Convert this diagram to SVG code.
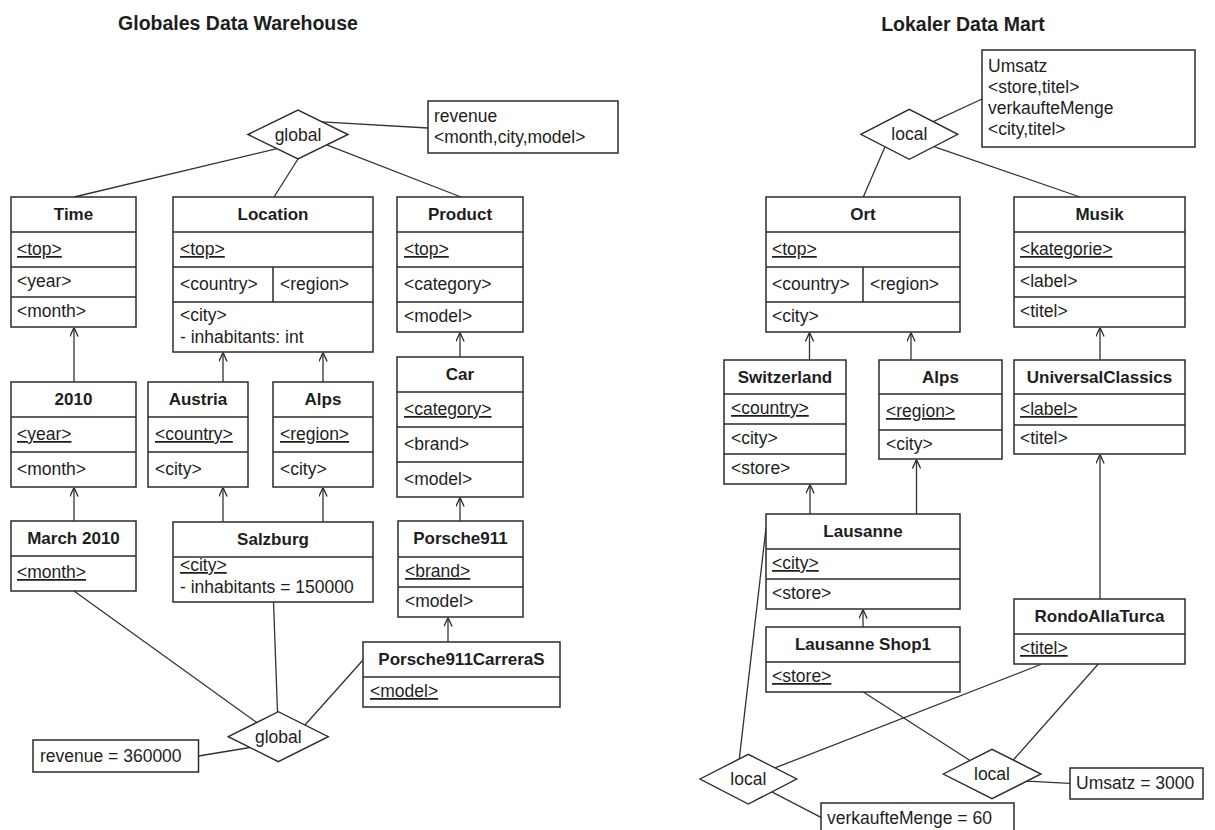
<svg xmlns="http://www.w3.org/2000/svg" width="1215" height="830" viewBox="0 0 1215 830">
  <defs>
    <style>
      .box { fill: #fff; stroke: #2b2b2b; stroke-width: 1.5; }
      .sep { stroke: #2b2b2b; stroke-width: 1.5; fill: none; }
      .edge { stroke: #333; stroke-width: 1.3; fill: none; }
      .dia { fill: #fff; stroke: #2b2b2b; stroke-width: 1.4; }
      text { font-family: "Liberation Sans", Arial, sans-serif; fill: #1e1e1e; }
      .t { font-size: 17.5px; }
      .h { font-size: 17px; font-weight: bold; text-anchor: middle; }
      .k { font-size: 17.5px; text-decoration: underline; }
      .c { font-size: 17.5px; text-anchor: middle; }
      .title { font-size: 19.5px; font-weight: bold; text-anchor: middle; }
    </style>
    <marker id="open" viewBox="0 0 9 9" refX="9" refY="4.5" markerWidth="9" markerHeight="9" markerUnits="userSpaceOnUse" orient="auto">
      <path d="M0,0.4 L9,4.5 L0,8.6" fill="none" stroke="#2b2b2b" stroke-width="1.3"/>
    </marker>
  </defs>
  <rect width="1215" height="830" fill="#fff"/>

  <text class="title" x="238" y="30">Globales Data Warehouse</text>
  <text class="title" x="963" y="31">Lokaler Data Mart</text>

  <!-- connectors -->
  <g id="connectors">
    <!-- global schema -->
    <line class="edge" x1="277" y1="148.6" x2="74" y2="197"/>
    <line class="edge" x1="298" y1="159" x2="274" y2="197"/>
    <line class="edge" x1="326.7" y1="144.9" x2="461" y2="197"/>
    <line class="edge" x1="322" y1="121.8" x2="428" y2="128"/>
    <!-- global hierarchy arrows -->
    <line class="edge" x1="74" y1="382" x2="74" y2="327.5" marker-end="url(#open)"/>
    <line class="edge" x1="223" y1="382" x2="223" y2="352.5" marker-end="url(#open)"/>
    <line class="edge" x1="323" y1="382" x2="323" y2="352.5" marker-end="url(#open)"/>
    <line class="edge" x1="460" y1="357" x2="460" y2="332.5" marker-end="url(#open)"/>
    <line class="edge" x1="74" y1="521" x2="74" y2="487.5" marker-end="url(#open)"/>
    <line class="edge" x1="223" y1="522" x2="223" y2="487.5" marker-end="url(#open)"/>
    <line class="edge" x1="323" y1="522" x2="323" y2="487.5" marker-end="url(#open)"/>
    <line class="edge" x1="460" y1="521" x2="460" y2="497.5" marker-end="url(#open)"/>
    <line class="edge" x1="448" y1="642" x2="448" y2="617.5" marker-end="url(#open)"/>
    <!-- global instance -->
    <line class="edge" x1="74" y1="591" x2="256.7" y2="722.5"/>
    <line class="edge" x1="273.5" y1="602" x2="277.5" y2="712"/>
    <line class="edge" x1="363" y1="660" x2="305" y2="725"/>
    <line class="edge" x1="198.5" y1="756" x2="250" y2="747.5"/>

    <!-- local schema -->
    <line class="edge" x1="933.3" y1="121.7" x2="982" y2="99"/>
    <line class="edge" x1="885" y1="146.8" x2="863.3" y2="197"/>
    <line class="edge" x1="934" y1="146.6" x2="1080" y2="197"/>
    <!-- local hierarchy arrows -->
    <line class="edge" x1="809.5" y1="360" x2="809.5" y2="332.5" marker-end="url(#open)"/>
    <line class="edge" x1="911" y1="360" x2="911" y2="332.5" marker-end="url(#open)"/>
    <line class="edge" x1="1100" y1="360" x2="1100" y2="327.5" marker-end="url(#open)"/>
    <line class="edge" x1="810" y1="514" x2="810" y2="484.5" marker-end="url(#open)"/>
    <line class="edge" x1="916.5" y1="514" x2="916.5" y2="459.5" marker-end="url(#open)"/>
    <line class="edge" x1="863" y1="627" x2="863" y2="609.5" marker-end="url(#open)"/>
    <line class="edge" x1="1100" y1="599" x2="1100" y2="454.5" marker-end="url(#open)"/>
    <!-- local instances -->
    <line class="edge" x1="739.3" y1="758.9" x2="766" y2="528"/>
    <line class="edge" x1="775" y1="767.9" x2="1040.7" y2="664.5"/>
    <line class="edge" x1="771.7" y1="791.9" x2="821" y2="817.3"/>
    <line class="edge" x1="970" y1="760.5" x2="863.3" y2="692"/>
    <line class="edge" x1="1013.3" y1="760" x2="1098.3" y2="664"/>
    <line class="edge" x1="1026.7" y1="781.2" x2="1070" y2="783.3"/>
  </g>

  <!-- ===== Globales Data Warehouse ===== -->
  <g id="global-schema">
    <polygon class="dia" points="248,134.5 298,110 348,134.5 298,159"/>
    <text class="c" x="298" y="140.5">global</text>
  </g>
  <g id="revenue-schema">
    <rect class="box" x="428" y="101" width="190" height="52"/>
    <text class="t" x="434" y="122">revenue</text>
    <text class="t" x="434" y="143">&lt;month,city,model&gt;</text>
  </g>

  <g id="time">
    <rect class="box" x="11" y="197" width="125" height="130"/>
    <path class="sep" d="M11,232H136M11,267H136M11,297H136"/>
    <text class="h" x="73.5" y="220">Time</text>
    <text class="k" x="17" y="255">&lt;top&gt;</text>
    <text class="t" x="17" y="287">&lt;year&gt;</text>
    <text class="t" x="17" y="317">&lt;month&gt;</text>
  </g>

  <g id="location">
    <rect class="box" x="173" y="197" width="200" height="155"/>
    <path class="sep" d="M173,232H373M173,267H373M173,302H373M273,267V302"/>
    <text class="h" x="273" y="220">Location</text>
    <text class="k" x="180" y="255">&lt;top&gt;</text>
    <text class="t" x="180" y="290">&lt;country&gt;</text>
    <text class="t" x="280" y="290">&lt;region&gt;</text>
    <text class="t" x="180" y="321">&lt;city&gt;</text>
    <text class="t" x="180" y="343">- inhabitants: int</text>
  </g>

  <g id="product">
    <rect class="box" x="397" y="197" width="126" height="135"/>
    <path class="sep" d="M397,232H523M397,267H523M397,302H523"/>
    <text class="h" x="460" y="220">Product</text>
    <text class="k" x="404" y="255">&lt;top&gt;</text>
    <text class="t" x="404" y="290">&lt;category&gt;</text>
    <text class="t" x="404" y="322">&lt;model&gt;</text>
  </g>

  <g id="y2010">
    <rect class="box" x="11" y="382" width="125" height="105"/>
    <path class="sep" d="M11,417H136M11,452H136"/>
    <text class="h" x="73.5" y="405">2010</text>
    <text class="k" x="17" y="440">&lt;year&gt;</text>
    <text class="t" x="17" y="475">&lt;month&gt;</text>
  </g>

  <g id="austria">
    <rect class="box" x="148" y="382" width="100" height="105"/>
    <path class="sep" d="M148,417H248M148,452H248"/>
    <text class="h" x="198" y="405">Austria</text>
    <text class="k" x="155" y="440">&lt;country&gt;</text>
    <text class="t" x="155" y="475">&lt;city&gt;</text>
  </g>

  <g id="alps-global">
    <rect class="box" x="273" y="382" width="100" height="105"/>
    <path class="sep" d="M273,417H373M273,452H373"/>
    <text class="h" x="323" y="405">Alps</text>
    <text class="k" x="280" y="440">&lt;region&gt;</text>
    <text class="t" x="280" y="475">&lt;city&gt;</text>
  </g>

  <g id="car">
    <rect class="box" x="397" y="357" width="126" height="140"/>
    <path class="sep" d="M397,392H523M397,427H523M397,462H523"/>
    <text class="h" x="460" y="380">Car</text>
    <text class="k" x="404" y="415">&lt;category&gt;</text>
    <text class="t" x="404" y="450">&lt;brand&gt;</text>
    <text class="t" x="404" y="485">&lt;model&gt;</text>
  </g>

  <g id="march2010">
    <rect class="box" x="11" y="521" width="125" height="70"/>
    <path class="sep" d="M11,556H136"/>
    <text class="h" x="73.5" y="544">March 2010</text>
    <text class="k" x="17" y="578">&lt;month&gt;</text>
  </g>

  <g id="salzburg">
    <rect class="box" x="173" y="522" width="200" height="80"/>
    <path class="sep" d="M173,557H373"/>
    <text class="h" x="273" y="545">Salzburg</text>
    <text class="k" x="180" y="571">&lt;city&gt;</text>
    <text class="t" x="180" y="593">- inhabitants = 150000</text>
  </g>

  <g id="porsche911">
    <rect class="box" x="398" y="521" width="125" height="96"/>
    <path class="sep" d="M398,557H523M398,587H523"/>
    <text class="h" x="460.5" y="544">Porsche911</text>
    <text class="k" x="405" y="577">&lt;brand&gt;</text>
    <text class="t" x="405" y="607">&lt;model&gt;</text>
  </g>

  <g id="porsche911carreras">
    <rect class="box" x="363" y="642" width="197" height="65"/>
    <path class="sep" d="M363,677H560"/>
    <text class="h" x="461.5" y="665">Porsche911CarreraS</text>
    <text class="k" x="370" y="697">&lt;model&gt;</text>
  </g>

  <g id="global-instance">
    <polygon class="dia" points="228.3,736.7 278.3,711.7 328.3,736.7 278.3,761.7"/>
    <text class="c" x="278.3" y="742.7">global</text>
  </g>
  <g id="revenue-value">
    <rect class="box" x="33" y="740" width="165.5" height="32"/>
    <text class="t" x="40" y="762">revenue = 360000</text>
  </g>

  <!-- ===== Lokaler Data Mart ===== -->
  <g id="local-schema">
    <polygon class="dia" points="860.8,134.3 909.3,109.3 957.8,134.3 909.3,159.3"/>
    <text class="c" x="909.3" y="140.3">local</text>
  </g>
  <g id="umsatz-schema">
    <rect class="box" x="982" y="50" width="213" height="97"/>
    <text class="t" x="988" y="72">Umsatz</text>
    <text class="t" x="988" y="93">&lt;store,titel&gt;</text>
    <text class="t" x="988" y="114">verkaufteMenge</text>
    <text class="t" x="988" y="135">&lt;city,titel&gt;</text>
  </g>

  <g id="ort">
    <rect class="box" x="766" y="197" width="194" height="135"/>
    <path class="sep" d="M766,232H960M766,267H960M766,302H960M863,267V302"/>
    <text class="h" x="863" y="220">Ort</text>
    <text class="k" x="772" y="255">&lt;top&gt;</text>
    <text class="t" x="772" y="290">&lt;country&gt;</text>
    <text class="t" x="870" y="290">&lt;region&gt;</text>
    <text class="t" x="772" y="322">&lt;city&gt;</text>
  </g>

  <g id="musik">
    <rect class="box" x="1014" y="197" width="171" height="130"/>
    <path class="sep" d="M1014,232H1185M1014,267H1185M1014,297H1185"/>
    <text class="h" x="1099.5" y="220">Musik</text>
    <text class="k" x="1020" y="255">&lt;kategorie&gt;</text>
    <text class="t" x="1020" y="287">&lt;label&gt;</text>
    <text class="t" x="1020" y="317">&lt;titel&gt;</text>
  </g>

  <g id="switzerland">
    <rect class="box" x="724" y="360" width="122" height="124"/>
    <path class="sep" d="M724,394H846M724,424H846M724,454H846"/>
    <text class="h" x="785" y="383">Switzerland</text>
    <text class="k" x="731" y="414">&lt;country&gt;</text>
    <text class="t" x="731" y="444">&lt;city&gt;</text>
    <text class="t" x="731" y="474">&lt;store&gt;</text>
  </g>

  <g id="alps-local">
    <rect class="box" x="879" y="360" width="123" height="99"/>
    <path class="sep" d="M879,394H1002M879,430H1002"/>
    <text class="h" x="940.5" y="383">Alps</text>
    <text class="k" x="886" y="417">&lt;region&gt;</text>
    <text class="t" x="886" y="450">&lt;city&gt;</text>
  </g>

  <g id="universalclassics">
    <rect class="box" x="1014" y="360" width="171" height="94"/>
    <path class="sep" d="M1014,394H1185M1014,425H1185"/>
    <text class="h" x="1099.5" y="383">UniversalClassics</text>
    <text class="k" x="1020" y="415">&lt;label&gt;</text>
    <text class="t" x="1020" y="444">&lt;titel&gt;</text>
  </g>

  <g id="lausanne">
    <rect class="box" x="766" y="514" width="194" height="95"/>
    <path class="sep" d="M766,549H960M766,579H960"/>
    <text class="h" x="863" y="537">Lausanne</text>
    <text class="k" x="772" y="569">&lt;city&gt;</text>
    <text class="t" x="772" y="599">&lt;store&gt;</text>
  </g>

  <g id="lausanne-shop1">
    <rect class="box" x="766" y="627" width="194" height="65"/>
    <path class="sep" d="M766,662H960"/>
    <text class="h" x="863" y="650">Lausanne Shop1</text>
    <text class="k" x="772" y="682">&lt;store&gt;</text>
  </g>

  <g id="rondoallaturca">
    <rect class="box" x="1014" y="599" width="171" height="65"/>
    <path class="sep" d="M1014,634H1185"/>
    <text class="h" x="1099.5" y="622">RondoAllaTurca</text>
    <text class="k" x="1020" y="654">&lt;titel&gt;</text>
  </g>

  <g id="local-instance-menge">
    <polygon class="dia" points="700,779 748.3,754.3 796.7,779 748.3,804"/>
    <text class="c" x="748.3" y="785">local</text>
  </g>
  <g id="local-instance-umsatz">
    <polygon class="dia" points="943.3,774 992,749.3 1041,774 992,798.7"/>
    <text class="c" x="992" y="780">local</text>
  </g>
  <g id="umsatz-value">
    <rect class="box" x="1070" y="768" width="133" height="31"/>
    <text class="t" x="1076" y="789">Umsatz = 3000</text>
  </g>
  <g id="menge-value">
    <rect class="box" x="821" y="803" width="193" height="40"/>
    <text class="t" x="827" y="824">verkaufteMenge = 60</text>
  </g>
</svg>
